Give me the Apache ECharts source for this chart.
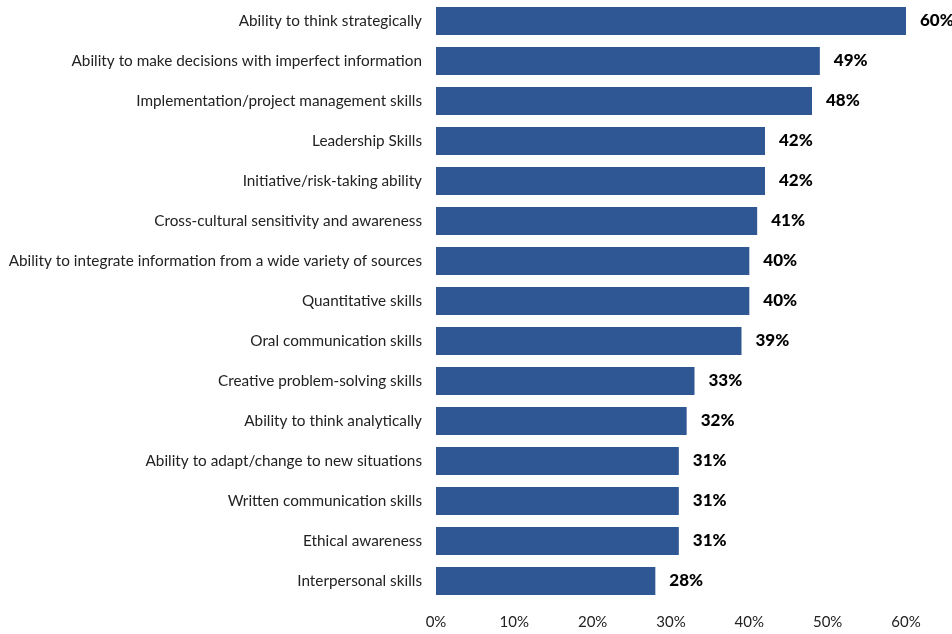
<!DOCTYPE html>
<html>
<head>
<meta charset="utf-8">
<script src="https://cdn.jsdelivr.net/npm/echarts@6/dist/echarts.min.js"></script>
<style>
  html, body { margin: 0; padding: 0; background: #fff; }
  #chart { width: 952px; height: 634px; }
</style>
</head>
<body>
<div id="chart"></div>
<script>
// top to bottom as in the picture
var skills = [
  'Ability to think strategically',
  'Ability to make decisions with imperfect information',
  'Implementation/project management skills',
  'Leadership Skills',
  'Initiative/risk-taking ability',
  'Cross-cultural sensitivity and awareness',
  'Ability to integrate information from a wide variety of sources',
  'Quantitative skills',
  'Oral communication skills',
  'Creative problem-solving skills',
  'Ability to think analytically',
  'Ability to adapt/change to new situations',
  'Written communication skills',
  'Ethical awareness',
  'Interpersonal skills'
];
var percents = [60, 49, 48, 42, 42, 41, 40, 40, 39, 33, 32, 31, 31, 31, 28];
var tickValues = [0, 10, 20, 30, 40, 50, 60];

var myChart = echarts.init(document.getElementById('chart'));

var option = {
  animation: false,
  textStyle: { fontFamily: 'Lato' },
  grid: { left: 436, right: 46, top: 1, bottom: 33, containLabel: false },
  xAxis: {
    type: 'value',
    min: tickValues[0],
    max: tickValues[tickValues.length - 1],
    interval: 10,
    axisLine: { show: false },
    axisTick: { show: false },
    splitLine: { show: false },
    axisLabel: {
      color: '#222',
      fontSize: 15,
      margin: 14,
      formatter: '{value}%'
    }
  },
  yAxis: {
    type: 'category',
    inverse: true,
    data: skills,
    axisLine: { show: false },
    axisTick: { show: false },
    axisLabel: { color: '#222', fontSize: 15.3, margin: 14 }
  },
  series: [{
    type: 'bar',
    data: percents,
    barWidth: 28,
    itemStyle: { color: '#2F5793' },
    label: {
      show: true,
      position: 'right',
      distance: 14,
      color: '#000',
      fontWeight: 900,
      fontSize: 17,
      formatter: '{c}%'
    }
  }]
};

myChart.setOption(option);
</script>
</body>
</html>
